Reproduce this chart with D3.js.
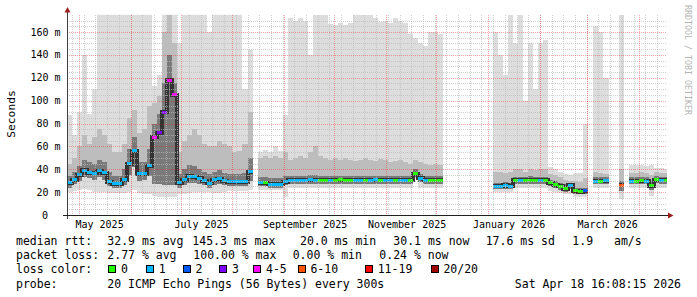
<!DOCTYPE html>
<html>
<head>
<meta charset="utf-8">
<script src="https://cdnjs.cloudflare.com/ajax/libs/d3/7.8.5/d3.min.js"></script>
<style>
  body { margin: 0; background: #fff; }
  text { font-family: "DejaVu Sans Mono", monospace; fill: #000; }
</style>
</head>
<body>
<div class="canvas"></div>
<script>
// one bucket = 3 days, starting Apr 24 2025
const start = new Date(Date.UTC(2025, 3, 24));
const end = new Date(Date.UTC(2026, 3, 18));
const stepDays = 3;

const median = [
  28, 31, 35, 39, 37, 36.5, 38.5, 37, 29, 27.5,
  27.5, 31, 45, 56, 36, 36, 43, 68, 72, 90,
  118, 105, 28, 31, 34, 33.5, 32, 30, 27.7, 31,
  31.5, 30, 29, 29, 29, 29, 38, null, 28, 28,
  27, 27, 27, 29, 30.5, 30.6, 30.4, 30.5, 31, 30.5,
  30.4, 30.6, 30.5, 30.5, 30.7, 30.4, 30.5, 30.6, 30.4, 30.5,
  30.5, 30.8, 30.4, 30.5, 30.6, 30.5, 30.4, 30.5, 30.5, 36,
  32, 30.5, 30.5, 30.3, 30.2, null, null, null, null, null,
  null, null, null, null, null, 25.3, 25.3, 25.8, 25.3, 30.3,
  30.5, 30.3, 30.6, 30.5, 30.4, 30.6, 28, 26.5, 25, 23,
  26, 21, 20.5, 21, null, 29.7, 29.7, 30, null, null,
  26, null, 29.7, 29.7, 29.8, 29.6, 25.5, 31, 30.5, 30.5
];

// lost pings out of 20
const loss = [
  1, 1, 1, 1, 1, 1, 1, 1, 1, 1,
  1, 1, 1, 1, 1, 1, 1, 5, 3, 3,
  5, 5, 1, 1, 1, 1, 1, 1, 1, 1,
  1, 1, 1, 1, 1, 1, 1, null, 1, 0,
  1, 1, 1, 1, 1, 1, 1, 1, 1, 1,
  0, 0, 1, 0, 0, 0, 0, 1, 1, 0,
  1, 1, 0, 1, 1, 0, 1, 1, 0, 0,
  1, 1, 0, 0, 0, null, null, null, null, null,
  null, null, null, null, null, 1, 1, 1, 1, 0,
  1, 0, 0, 0, 1, 0, 0, 0, 0, 0,
  1, 0, 0, 2, null, 1, 0, 1, null, null,
  8, null, 1, 0, 0, 1, 0, 0, 1, 0
];

const smokeMax = [
  87, 70, 90, 140, 88, 110, 180, 180, 180, 180,
  180, 180, 180, 180, 180, 180, 180, 113, 122, 180,
  180, 180, 150, 180, 180, 180, 180, 180, 160, 180,
  180, 180, 180, 180, 180, 110, 144, null, 55, 57,
  55, 60, 56, 87, 172, 170, 172, 170, 140, 175,
  175, 175, 167, 166, 168, 166, 168, 175, 175, 175,
  175, 172, 169, 170, 168, 172, 170, 168, 158, 155,
  150, 148, 160, 160, 158, null, null, null, null, null,
  null, null, null, null, null, 160, 140, 122, 175, 150,
  175, 100, 150, 110, 150, 153, 42, 40, 38, 36,
  35, 37, 37, 80, null, 165, 160, 120, null, null,
  175, null, 44, 44, 44, 43, 44, 41, 41, 40
];

const smokeP90 = [
  45, 50, 60, 70, 62, 68, 75, 70, 62, 55,
  55, 62, 85, 92, 72, 75, 95, 98, 104, 160,
  175, 150, 55, 65, 70, 75, 70, 62, 60, 60,
  65, 62, 60, 55, 56, 62, 90, null, 50, 52,
  50, 52, 50, 55, 48, 50, 52, 50, 55, 60,
  52, 50, 48, 50, 48, 50, 48, 47, 48, 50,
  48, 47, 49, 48, 46, 47, 48, 46, 45, 48,
  46, 45, 44, 45, 44, null, null, null, null, null,
  null, null, null, null, null, 38, 38, 37, 38, 40,
  40, 38, 40, 39, 40, 40, 36, 35, 33, 31,
  30, 30, 29, 32, null, 38, 37, 36, null, null,
  40, null, 37, 37, 38, 37, 35, 38, 37, 37
];

const smokeP75 = [
  34, 38, 43, 48, 46, 45, 48, 46, 38, 34,
  34, 40, 58, 68, 46, 46, 58, 80, 88, 115,
  140, 115, 36, 40, 44, 43, 40, 38, 36, 38,
  39, 37, 36, 36, 36, 37, 50, null, 33, 33,
  32, 32, 32, 34, 34, 34, 34, 34, 35, 35,
  34, 34, 34, 34, 34, 34, 34, 34, 34, 34,
  34, 34, 34, 34, 34, 34, 34, 34, 34, 40,
  36, 34, 34, 34, 34, null, null, null, null, null,
  null, null, null, null, null, 28, 28, 29, 28, 33,
  33, 33, 34, 33, 33, 33, 31, 30, 28, 27,
  28, 24, 24, 24, null, 33, 33, 33, null, null,
  30, null, 33, 33, 33, 33, 29, 34, 33, 33
];

const smokeP25 = [
  24, 27, 30, 33, 32, 31, 33, 31, 25, 24,
  24, 26, 35, 42, 30, 31, 34, 27, 27, 26,
  26, 26, 24, 26, 28, 28, 27, 26, 24, 26,
  27, 26, 25, 25, 25, 25, 30, null, 25, 25,
  24, 24, 24, 26, 27.5, 27.5, 27.5, 27.5, 27.5, 27.5,
  27.5, 27.5, 27.5, 27.5, 27.5, 27.5, 27.5, 27.5, 27.5, 27.5,
  27.5, 27.5, 27.5, 27.5, 27.5, 27.5, 27.5, 27.5, 27.5, 33,
  28.5, 27.5, 27.5, 27.5, 27.5, null, null, null, null, null,
  null, null, null, null, null, 23, 23, 23, 23, 27,
  27.5, 27.5, 27.5, 27.5, 27.5, 27.5, 25, 23.5, 22, 20,
  23, 18.5, 18, 18.5, null, 27, 27, 27, null, null,
  21, null, 27, 27, 27, 27, 22, 28, 27.5, 27.5
];

const smokeMin = [
  20, 21, 22, 23, 22, 20, 20, 20, 19, 19,
  19, 19, 20, 22, 19, 18, 18, 17, 16, 16,
  16, 16, 18, 18, 19, 20, 20, 20, 20, 19,
  19, 20, 21, 21, 21, 21, 22, null, 22, 22,
  22, 22, 22, 16, 24, 24, 24, 24, 24, 24,
  24, 24, 24, 24, 24, 24, 24, 24, 24, 24,
  24, 24, 24, 24, 24, 24, 24, 24, 24, 32,
  24, 24, 24, 24, 24, null, null, null, null, null,
  null, null, null, null, null, 20, 20, 20, 20, 24,
  24, 24, 24, 24, 24, 24, 21, 20, 19, 18,
  18, 16, 16, 16, null, 24, 24, 24, null, null,
  14, null, 24, 24, 24, 24, 17, 24, 24, 24
];

const lossLabels = ["0", "1", "2", "3", "4-5", "6-10", "11-19", "20/20"];
const lossColors = ["#26ff00", "#00b8ff", "#0059ff", "#7e00ff", "#ff00ff", "#ff5500", "#ff0000", "#a10000"];
const yTicks = [0, 20, 40, 60, 80, 100, 120, 140, 160];

const rttLegend = ["median rtt:", "32.9 ms avg", "145.3 ms max", "20.0 ms min", "30.1 ms now", "17.6 ms sd", "1.9", "am/s"];
const lossLegend = ["packet loss:", "2.77 % avg", "100.00 % max", "0.00 % min", "0.24 % now"];
const probeText = "20 ICMP Echo Pings (56 Bytes) every 300s";
const stampText = "Sat Apr 18 16:08:15 2026";

// layout
const rttX = [16, 107.3, 192.3, 300, 393.3, 485.7, 572.3, 614];
const lossX = [16, 107.3, 193.3, 292.7, 379.3];
const boxX = [108.3, 146, 182.7, 219.3, 253.3, 297.7, 365, 430.7];

const svg = d3.select(".canvas").append("svg")
  .attr("width", 697).attr("height", 297);

const x = d3.scaleUtc().domain([start, end]).range([67, 667]);
const y = d3.scaleLinear().domain([0, 160]).range([215, 32]);
const yMax = 175;

svg.append("clipPath").attr("id", "plot-clip")
  .append("rect")
  .attr("x", 67).attr("y", y(yMax))
  .attr("width", 600).attr("height", 215 - y(yMax));

const plot = svg.append("g").attr("clip-path", "url(#plot-clip)");

const buckets = median.map((m, i) => ({
  i: i,
  t0: d3.utcDay.offset(start, stepDays * i),
  t1: d3.utcDay.offset(start, stepDays * (i + 1))
}));
const pts = buckets.flatMap(b => [{ i: b.i, t: b.t0 }, { i: b.i, t: b.t1 }]);

function band(lo, hi, color) {
  const area = d3.area()
    .defined(d => lo[d.i] != null && hi[d.i] != null)
    .x(d => x(d.t))
    .y0(d => y(lo[d.i]))
    .y1(d => y(hi[d.i]));
  plot.append("path")
    .attr("d", area(pts))
    .attr("fill", color)
    .attr("shape-rendering", "crispEdges");
}

band(smokeMin, smokeMax, "#dddddd");
band(smokeP25, smokeP90, "#bdbdbd");
band(smokeP25, smokeP75, "#7a7a7a");

// dark step under the median, like the densest smoke
const medianStep = d3.line()
  .defined(d => median[d.i] != null)
  .x(d => x(d.t))
  .y(d => y(median[d.i]));
plot.append("path")
  .attr("d", medianStep(pts))
  .attr("fill", "none")
  .attr("stroke", "#333333")
  .attr("stroke-width", 4)
  .attr("shape-rendering", "crispEdges");

function lossIndex(n) {
  if (n <= 3) return n;
  if (n <= 5) return 4;
  if (n <= 10) return 5;
  if (n <= 19) return 6;
  return 7;
}

plot.selectAll(".median")
  .data(buckets.filter(b => median[b.i] != null))
  .enter()
  .append("path")
  .attr("class", "median")
  .attr("d", b => `M${x(b.t0)},${y(median[b.i])}H${x(b.t1)}`)
  .attr("stroke", b => lossColors[lossIndex(loss[b.i])])
  .attr("stroke-width", 3)
  .attr("shape-rendering", "crispEdges");

// grid, drawn over the smoke
const grid = svg.append("g").attr("shape-rendering", "crispEdges");
const px = v => Math.round(v) + 0.5;

const yMinor = d3.range(5, yMax, 5).filter(v => v % 20 !== 0);
const yMajor = d3.range(20, yMax, 20);
const xMinor = d3.utcSunday.range(start, end);
const xMajor = d3.utcMonth.range(start, end);

grid.selectAll(".ymin").data(yMinor).enter().append("line")
  .attr("x1", 67).attr("x2", 667)
  .attr("y1", d => px(y(d))).attr("y2", d => px(y(d)))
  .attr("stroke", "#bababa").attr("stroke-opacity", 0.7)
  .attr("stroke-dasharray", "1,1");

grid.selectAll(".xmin").data(xMinor).enter().append("line")
  .attr("x1", d => px(x(d))).attr("x2", d => px(x(d)))
  .attr("y1", y(yMax)).attr("y2", 215)
  .attr("stroke", "#bababa").attr("stroke-opacity", 0.7)
  .attr("stroke-dasharray", "1,1");

grid.selectAll(".ymaj").data(yMajor).enter().append("line")
  .attr("x1", 67).attr("x2", 667)
  .attr("y1", d => px(y(d))).attr("y2", d => px(y(d)))
  .attr("stroke", "#ff0000").attr("stroke-opacity", 0.35)
  .attr("stroke-dasharray", "1,1");

grid.selectAll(".xmaj").data(xMajor).enter().append("line")
  .attr("x1", d => px(x(d))).attr("x2", d => px(x(d)))
  .attr("y1", y(yMax)).attr("y2", 215)
  .attr("stroke", "#ff0000").attr("stroke-opacity", 0.35)
  .attr("stroke-dasharray", "1,1");

// axes
const axes = svg.append("g").attr("shape-rendering", "crispEdges");
axes.append("line")
  .attr("x1", 67.5).attr("x2", 67.5).attr("y1", 219).attr("y2", 10)
  .attr("stroke", "#404040");
axes.append("line")
  .attr("x1", 63).attr("x2", 669).attr("y1", 215.5).attr("y2", 215.5)
  .attr("stroke", "#202020");
svg.append("path").attr("d", "M64.5,12.5L67.5,7L70.5,12.5Z").attr("fill", "#9c1f1f");
svg.append("path").attr("d", "M668,212.5L673.5,215.5L668,218.5Z").attr("fill", "#9c1f1f");

svg.selectAll(".ylab").data(yTicks).enter().append("text")
  .attr("x", d => d === 0 ? 48 : 60.5)
  .attr("y", d => y(d))
  .attr("dy", "0.36em")
  .attr("text-anchor", "end")
  .style("font-size", "10px")
  .text(d => d === 0 ? "0" : d + " m");

svg.selectAll(".xlab").data(d3.utcMonth.every(2).range(start, end)).enter().append("text")
  .attr("x", d => x(d3.utcHour.offset(d, 300)))
  .attr("y", 228)
  .attr("text-anchor", "middle")
  .style("font-size", "10px")
  .text(d => d3.utcFormat("%B %Y")(d));

svg.append("text")
  .attr("transform", "translate(15,114) rotate(-90)")
  .attr("text-anchor", "middle")
  .style("font-size", "11.3px")
  .text("Seconds");

svg.append("text")
  .attr("transform", "translate(684.5,5) rotate(90)")
  .style("font-size", "8.3px")
  .style("fill", "#b4b4b4")
  .text("RRDTOOL / TOBI OETIKER");

// legend
const legend = svg.append("g").style("font-size", "11.5px");
const rowY = [244.7, 259, 273.3, 288];

rttLegend.forEach((t, i) => {
  legend.append("text").attr("x", rttX[i]).attr("y", rowY[0]).text(t);
});
lossLegend.forEach((t, i) => {
  legend.append("text").attr("x", lossX[i]).attr("y", rowY[1]).text(t);
});
legend.append("text").attr("x", 16).attr("y", rowY[2]).text("loss color:");
lossLabels.forEach((t, i) => {
  legend.append("rect")
    .attr("x", Math.round(boxX[i]) + 0.5).attr("y", 265.5)
    .attr("width", 7).attr("height", 7)
    .attr("fill", lossColors[i])
    .attr("stroke", "#000")
    .attr("shape-rendering", "crispEdges");
  legend.append("text").attr("x", boxX[i] + 12.7).attr("y", rowY[2]).text(t);
});
legend.append("text").attr("x", 16).attr("y", rowY[3]).text("probe:");
legend.append("text").attr("x", 107.3).attr("y", rowY[3]).text(probeText);
legend.append("text").attr("x", 681).attr("y", rowY[3]).attr("text-anchor", "end").text(stampText);
</script>
</body>
</html>
